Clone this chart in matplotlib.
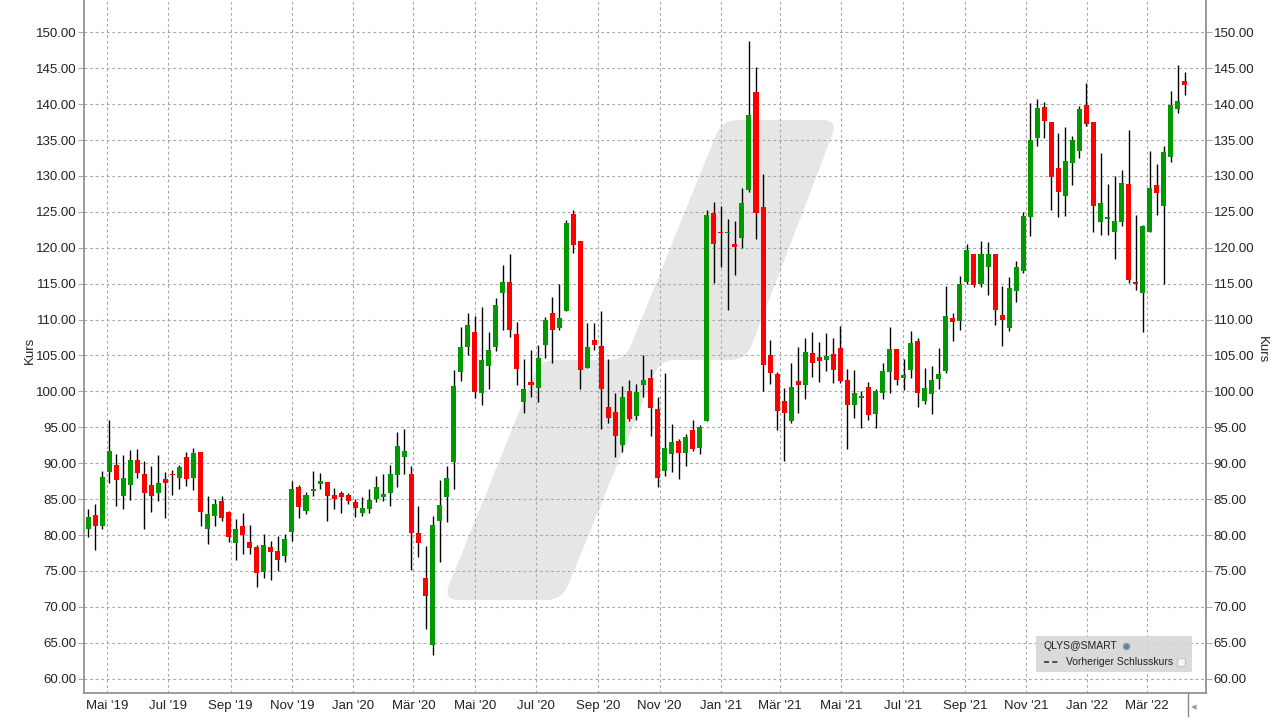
import numpy as np
import pandas as pd
import matplotlib
matplotlib.use("Agg")
import matplotlib.pyplot as plt
import matplotlib.dates as mdates
from matplotlib.path import Path
from matplotlib.patches import PathPatch, Rectangle
from matplotlib.lines import Line2D

plt.rcParams['font.family'] = ['Liberation Sans', 'DejaVu Sans']

# weekly candles, QLYS
first_week = '2019-04-12'
opens = [80.8, 82.8, 81.2, 88.84, 89.77, 85.37, 86.9, 90.46, 88.5, 87.0,
         85.8, 87.8, 88.5, 88.0, 90.9, 88.0, 91.6, 80.8, 82.6, 84.8,
         83.24, 78.84, 81.2, 79.07, 78.3, 74.8, 78.4, 77.8, 77.04, 80.37,
         86.7, 83.4, 86.06, 87.04, 87.4, 85.6, 85.88, 85.6, 84.54, 83.0,
         83.56, 84.95, 85.23, 85.88, 88.38, 90.88, 88.5, 80.3, 74.07, 64.68,
         81.9, 85.23, 90.23, 102.73, 106.2, 108.24, 99.8, 103.56, 106.2, 113.7,
         115.3, 107.96, 98.56, 101.3, 100.5, 106.48, 110.88, 108.84, 111.2, 124.77,
         120.88, 103.3, 107.13, 106.34, 97.87, 97.18, 92.6, 100.05, 96.62, 100.9,
         101.85, 97.5, 88.9, 91.27, 93.04, 91.4, 94.56, 92.1, 95.86, 124.88,
         122.24, 122.0, 120.57, 121.3, 127.99, 141.7, 125.7, 105.04, 102.4, 98.64,
         95.86, 101.4, 100.86, 105.3, 104.76, 104.34, 105.17, 106.0, 101.56, 98.15,
         99.12, 100.6, 96.9, 99.8, 102.73, 105.88, 101.9, 103.0, 107.0, 98.7,
         99.68, 101.76, 102.87, 110.19, 109.8, 115.23, 119.2, 114.95, 117.3, 119.07,
         110.6, 108.84, 113.98, 116.77, 124.26, 135.23, 139.63, 137.55, 131.16, 127.18,
         131.76, 133.43, 139.9, 137.55, 123.56, 123.98, 122.18, 123.56, 128.94, 115.3,
         113.7, 122.18, 128.8, 125.8, 132.6, 139.26, 143.24]
highs = [83.65, 84.35, 88.98, 96.0, 91.3, 91.16, 91.85, 91.99, 90.3, 89.6,
         91.16, 88.8, 89.0, 89.8, 91.6, 92.1, 91.6, 85.46, 85.05, 85.46,
         83.4, 82.27, 83.1, 81.4, 78.66, 80.2, 79.2, 79.9, 80.2, 87.55,
         86.99, 86.0, 88.94, 88.66, 87.4, 86.57, 86.16, 85.88, 84.95, 85.3,
         86.44, 88.24, 88.5, 89.77, 94.35, 94.77, 89.6, 83.98, 78.5, 82.6,
         87.7, 89.6, 103.0, 108.98, 110.88, 110.46, 111.7, 108.24, 112.96, 117.55,
         119.2, 109.6, 104.5, 105.74, 106.44, 110.3, 113.1, 114.9, 123.8, 125.19,
         120.88, 109.5, 109.5, 111.16, 104.5, 99.8, 100.8, 101.6, 101.06, 105.1,
         103.1, 99.15, 102.6, 95.4, 93.3, 94.0, 95.95, 95.25, 125.3, 126.4,
         125.85, 124.04, 123.77, 128.36, 148.8, 145.2, 130.3, 107.1, 102.67, 100.45,
         103.9, 106.15, 107.4, 108.2, 106.85, 108.1, 107.5, 109.07, 103.1, 102.96,
         100.05, 101.3, 100.3, 103.94, 108.94, 105.88, 104.5, 108.38, 107.4, 103.24,
         103.5, 106.0, 114.63, 110.88, 116.0, 120.46, 119.2, 121.0, 120.74, 119.07,
         114.63, 115.88, 118.1, 124.99, 140.1, 140.74, 140.3, 137.55, 136.0, 136.85,
         135.6, 139.77, 142.96, 137.55, 133.24, 128.94, 130.05, 130.88, 136.44, 124.63,
         123.1, 133.5, 131.7, 134.2, 141.85, 145.46, 144.5]
lows = [79.7, 77.96, 80.9, 87.2, 84.07, 83.56, 84.9, 88.0, 80.9, 83.15,
        84.7, 82.3, 85.6, 86.4, 86.85, 86.2, 81.3, 78.7, 81.3, 81.9,
        79.0, 76.5, 77.3, 77.4, 72.7, 74.0, 73.7, 74.95, 76.2, 79.1,
        82.3, 82.87, 85.37, 86.44, 81.9, 83.56, 83.0, 84.26, 82.45, 82.6,
        83.0, 84.54, 84.8, 84.1, 86.7, 88.5, 75.1, 77.0, 66.9, 63.3,
        76.2, 81.76, 86.4, 101.48, 105.05, 99.1, 98.15, 100.37, 105.65, 108.56,
        107.6, 100.9, 97.0, 99.26, 98.56, 104.7, 103.98, 108.56, 111.2, 119.26,
        100.37, 103.3, 105.8, 94.8, 95.65, 90.8, 91.6, 95.9, 96.06, 99.26,
        93.84, 86.63, 88.2, 88.76, 87.8, 89.6, 91.7, 91.27, 95.86, 115.14,
        117.3, 111.4, 116.2, 119.9, 127.7, 121.2, 100.0, 101.0, 94.6, 90.3,
        95.6, 96.97, 98.9, 101.98, 101.3, 102.8, 101.1, 101.1, 92.0, 96.34,
        94.95, 96.06, 94.95, 98.98, 99.8, 100.9, 100.2, 101.9, 97.87, 98.3,
        96.9, 100.37, 102.6, 107.04, 108.56, 114.95, 114.5, 114.5, 113.4, 109.26,
        106.34, 108.4, 112.45, 116.45, 121.6, 134.1, 135.23, 125.23, 124.26, 124.4,
        128.7, 132.45, 137.0, 122.2, 121.76, 121.76, 118.43, 123.0, 115.1, 114.1,
        108.2, 122.18, 124.5, 114.95, 131.9, 138.7, 141.34]
closes = [82.55, 81.2, 88.1, 91.7, 87.6, 87.96, 90.46, 88.7, 85.9, 85.5,
          87.3, 87.2, 88.3, 89.5, 87.8, 91.44, 83.15, 82.96, 84.35, 82.3,
          79.7, 80.9, 79.95, 78.15, 74.7, 78.56, 77.7, 76.5, 79.5, 86.44,
          83.84, 85.6, 86.34, 87.55, 85.37, 85.05, 85.23, 84.68, 83.7, 83.7,
          84.9, 86.7, 85.74, 88.5, 92.4, 91.7, 80.23, 78.94, 71.5, 81.34,
          84.2, 87.96, 100.75, 106.2, 109.2, 99.95, 104.35, 105.74, 111.99, 115.3,
          108.56, 103.15, 100.3, 100.9, 104.63, 109.9, 108.56, 110.19, 123.38, 120.37,
          103.0, 106.2, 106.48, 100.37, 96.34, 93.84, 99.26, 96.2, 99.95, 101.57,
          97.7, 87.9, 92.05, 92.9, 91.4, 93.7, 91.96, 95.1, 124.6, 120.47,
          122.0, 122.24, 120.06, 126.27, 138.5, 124.8, 103.65, 102.5, 97.25, 96.97,
          100.59, 100.86, 105.45, 103.9, 104.2, 104.9, 102.95, 101.4, 98.1, 99.77,
          99.4, 96.76, 100.0, 102.8, 105.88, 101.6, 102.27, 106.7, 99.8, 100.46,
          101.57, 102.4, 110.46, 109.68, 114.9, 119.63, 114.8, 119.2, 119.2, 111.34,
          109.95, 114.35, 117.27, 124.43, 135.05, 139.5, 137.6, 129.8, 127.73, 132.13,
          135.05, 139.35, 137.3, 125.8, 126.3, 124.35, 123.66, 129.07, 115.5, 114.95,
          122.96, 128.38, 127.6, 133.4, 139.9, 140.46, 142.6]

tick_dates = ['2019-05-01', '2019-07-01', '2019-09-01', '2019-11-01', '2020-01-01',
              '2020-03-01', '2020-05-01', '2020-07-01', '2020-09-01', '2020-11-01',
              '2021-01-01', '2021-03-01', '2021-05-01', '2021-07-01', '2021-09-01',
              '2021-11-01', '2022-01-01', '2022-03-01']
tick_labels = ["Mai '19", "Jul '19", "Sep '19", "Nov '19", "Jan '20", "Mär '20",
               "Mai '20", "Jul '20", "Sep '20", "Nov '20", "Jan '21", "Mär '21",
               "Mai '21", "Jul '21", "Sep '21", "Nov '21", "Jan '22", "Mär '22"]
y_ticks = np.arange(60, 151, 5)

o = np.array(opens); h = np.array(highs); l = np.array(lows); c = np.array(closes)
x = mdates.date2num(pd.date_range(first_week, periods=len(o), freq='7D'))

W, H = 1280, 720
fig = plt.figure(figsize=(12.8, 7.2), dpi=100)
L, R, B, T = 84, 1206, 693, 0   # plot area in pixels
ax = fig.add_axes([L / W, (H - B) / H, (R - L) / W, (B - T) / H])

# watermark (rounded slanted logo), pixel coords of plot
def px(p):
    return ((p[0] - L) / (R - L), (B - p[1]) / (B - T))

def rounded(points, r):
    verts, codes = [], []
    n = len(points)
    for i in range(n):
        a, v, b = np.array(points[i - 1]), np.array(points[i]), np.array(points[(i + 1) % n])
        pa = v + r * (a - v) / np.linalg.norm(a - v)
        pb = v + r * (b - v) / np.linalg.norm(b - v)
        verts += [pa, v, pb]
        codes += [Path.MOVETO if i == 0 else Path.LINETO, Path.CURVE3, Path.CURVE3]
    verts.append(verts[0]); codes.append(Path.CLOSEPOLY)
    return Path([px(p) for p in verts], codes)

logo = [(443, 600), (562, 600), (660, 360), (746, 360), (838, 120),
        (722, 120), (625, 360), (540, 360)]
ax.add_patch(PathPatch(rounded(logo, 16), facecolor='#e6e6e6', edgecolor='none',
                       transform=ax.transAxes, zorder=0.2))

# candles
up = c >= o
body_lo = np.minimum(o, c)
body_h = np.maximum(np.abs(c - o), 0.25)
ax.vlines(x, l, h, color='black', linewidth=1.0, zorder=2)
ax.bar(x, body_h, bottom=body_lo, width=5, color=np.where(up, '#009900', '#ff0000'),
       linewidth=0, zorder=3)

ax.set_xlim(mdates.date2num(pd.Timestamp('2019-04-08')), mdates.date2num(pd.Timestamp('2022-04-29')))
ax.set_ylim(58.0, 154.5)

ax.set_xticks(mdates.date2num(pd.to_datetime(tick_dates)))
ax.set_xticklabels(tick_labels)
ax.set_yticks(y_ticks)
ax.set_yticklabels([f'{v:.2f}' for v in y_ticks])

ax.set_axisbelow(True)
ax.grid(True, color='#a8a8a8', linestyle=(0, (2.5, 2.5)), linewidth=0.8)
ax.tick_params(axis='x', length=0, pad=5, labelsize=9.5, colors='#222222')
ax.tick_params(axis='y', length=4, color='#a8a8a8', pad=1.5, labelsize=9.5,
               labelcolor='#222222', left=True, right=True, labelleft=True, labelright=True)

for s in ['left', 'right', 'bottom']:
    ax.spines[s].set_color('#8a8a8a')
    ax.spines[s].set_linewidth(1.2)
ax.spines['top'].set_visible(False)

fig.text(30 / W, 1 - 350 / H, 'Kurs', rotation=90, ha='center', va='center', fontsize=9.5, color='#222222')
fig.text(1262 / W, 1 - 350 / H, 'Kurs', rotation=270, ha='center', va='center', fontsize=9.5, color='#222222')

# legend box
ax.add_patch(Rectangle(px((1036, 672)), (1192 - 1036) / (R - L), 36 / (B - T),
                       transform=ax.transAxes, facecolor='#d6d6d6', edgecolor='none',
                       alpha=0.9, zorder=4))
ax.text(*px((1044, 646)), 'QLYS@SMART', transform=ax.transAxes, fontsize=7.5,
        color='#222222', va='center', ha='left', zorder=5)
ax.plot(*px((1126, 646)), marker='o', markersize=4.5, color='#5b7fa8',
        markeredgecolor='#8ca0b5', transform=ax.transAxes, zorder=5, clip_on=False)
ax.add_line(Line2D([px((1044, 0))[0], px((1060, 0))[0]], [px((0, 662))[1]] * 2,
                   transform=ax.transAxes, color='#333333', linestyle=(0, (3, 2)),
                   linewidth=1.2, zorder=5))
ax.text(*px((1066, 662)), 'Vorheriger Schlusskurs', transform=ax.transAxes, fontsize=7.5,
        color='#222222', va='center', ha='left', zorder=5)
ax.plot(*px((1181, 662)), marker='s', markersize=5.5, color='#f4f4f8',
        markeredgecolor='#c8c8d0', transform=ax.transAxes, zorder=5)

# scroll marker bottom right
fig.add_artist(Line2D([1188 / W] * 2, [1 - 693 / H, 1 - 716 / H], color='#8a8a8a', linewidth=1))
fig.text(1194 / W, 1 - 707 / H, '◂', fontsize=8, color='#9a9a9a', ha='center', va='center',
         family=['DejaVu Sans'])

fig.savefig('out.png', dpi=100)
